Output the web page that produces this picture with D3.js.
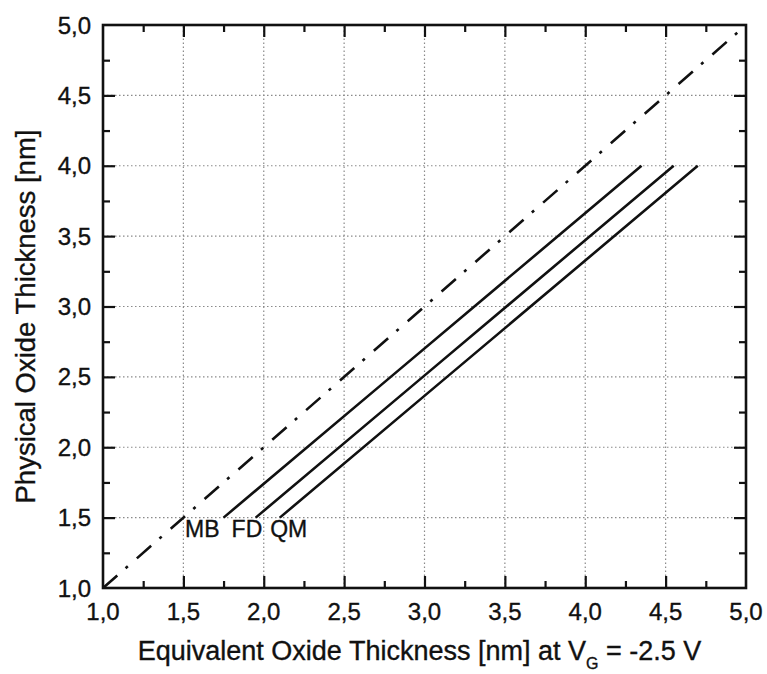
<!DOCTYPE html>
<html>
<head>
<meta charset="utf-8">
<script src="https://cdn.jsdelivr.net/npm/d3@7"></script>
<style>
  body { margin: 0; background: #fff; }
  text { font-family: "Liberation Sans", Arial, sans-serif; fill: #111; stroke: #111; stroke-width: 0.35px; }
</style>
</head>
<body>
<div id="container"></div>
<script>
/* CONSTANTS AND GLOBALS */
const width = 767,
  height = 674,
  margin = { top: 25, bottom: 86, left: 103, right: 21 };

/* DATA */
const majorTicks = [1.0, 1.5, 2.0, 2.5, 3.0, 3.5, 4.0, 4.5, 5.0];
const minorTicks = [1.25, 1.75, 2.25, 2.75, 3.25, 3.75, 4.25, 4.75];

// y = physical oxide thickness, x = EOT for each model
const physY = [1.5, 2.5, 4.0];
const mbX = [1.75, 2.79, 4.35];
const fdX = [1.95, 2.99, 4.55];
const qmX = [2.10, 3.14, 4.70];

// reference line EOT = physical thickness
const refX = [1.0, 5.0];
const refY = [1.0, 5.0];

const modelNames = ["MB", "FD", "QM"];
const labelX = [1.51, 1.80, 2.04];
const labelY = 1.36;

/* SCALES */
const xScale = d3.scaleLinear()
  .domain([1, 5])
  .range([margin.left, width - margin.right]);

const yScale = d3.scaleLinear()
  .domain([1, 5])
  .range([height - margin.bottom, margin.top]);

const fmt = d => d3.format(".1f")(d).replace(".", ",");

/* HTML ELEMENTS */
const svg = d3.select("#container")
  .append("svg")
  .attr("width", width)
  .attr("height", height);

// grid
const inner = majorTicks.slice(1, -1);
svg.append("g")
  .selectAll("line")
  .data(inner)
  .join("line")
  .attr("x1", d => xScale(d)).attr("x2", d => xScale(d))
  .attr("y1", yScale(1)).attr("y2", yScale(5))
  .attr("stroke", "#8a8a8a")
  .attr("stroke-width", 1.2)
  .attr("stroke-dasharray", "1.5,2.5");

svg.append("g")
  .selectAll("line")
  .data(inner)
  .join("line")
  .attr("y1", d => yScale(d)).attr("y2", d => yScale(d))
  .attr("x1", xScale(1)).attr("x2", xScale(5))
  .attr("stroke", "#8a8a8a")
  .attr("stroke-width", 1.2)
  .attr("stroke-dasharray", "1.5,2.5");

// axes (ticks pointing inwards, on all four sides)
const styleAxis = g => {
  g.select(".domain").remove();
  g.selectAll(".tick line").attr("stroke", "#111").attr("stroke-width", 2.2);
};

const tickAxis = (makeAxis, vals, len) => makeAxis()
  .tickValues(vals).tickSize(-len).tickSizeOuter(0)
  .tickFormat("");

const sides = [
  [() => d3.axisBottom(xScale), `translate(0,${yScale(1)})`],
  [() => d3.axisTop(xScale), `translate(0,${yScale(5)})`],
  [() => d3.axisLeft(yScale), `translate(${xScale(1)},0)`],
  [() => d3.axisRight(yScale), `translate(${xScale(5)},0)`]
];
sides.forEach(([makeAxis, tr]) => {
  svg.append("g").attr("transform", tr)
    .call(tickAxis(makeAxis, inner, 12)).call(styleAxis);
  svg.append("g").attr("transform", tr)
    .call(tickAxis(makeAxis, minorTicks, 7)).call(styleAxis);
});

// tick labels
svg.append("g")
  .selectAll("text")
  .data(majorTicks)
  .join("text")
  .attr("x", d => xScale(d))
  .attr("y", yScale(1) + 32)
  .attr("text-anchor", "middle")
  .attr("font-size", 24)
  .text(fmt);

svg.append("g")
  .selectAll("text")
  .data(majorTicks)
  .join("text")
  .attr("x", xScale(1) - 12)
  .attr("y", d => yScale(d) + 8.5)
  .attr("text-anchor", "end")
  .attr("font-size", 24)
  .text(fmt);

/* LINES */
const line = d3.line()
  .x(d => xScale(d[0]))
  .y(d => yScale(d[1]));

svg.append("path")
  .datum(refX.map((x, i) => [x, refY[i]]))
  .attr("d", line)
  .attr("fill", "none")
  .attr("stroke", "#111")
  .attr("stroke-width", 2.6)
  .attr("stroke-dasharray", "19,11,3,12");

[mbX, fdX, qmX].forEach(xs => {
  svg.append("path")
    .datum(xs.map((x, i) => [x, physY[i]]))
    .attr("d", line)
    .attr("fill", "none")
    .attr("stroke", "#111")
    .attr("stroke-width", 2.6);
});

// frame
svg.append("rect")
  .attr("x", xScale(1))
  .attr("y", yScale(5))
  .attr("width", xScale(5) - xScale(1))
  .attr("height", yScale(1) - yScale(5))
  .attr("fill", "none")
  .attr("stroke", "#111")
  .attr("stroke-width", 2.6);

// model labels
svg.append("g")
  .selectAll("text")
  .data(modelNames)
  .join("text")
  .attr("x", (d, i) => xScale(labelX[i]))
  .attr("y", yScale(labelY))
  .attr("font-size", 23)
  .text(d => d);

/* AXIS TITLES */
const xt = svg.append("text")
  .attr("x", (xScale(1) + xScale(5)) / 2 - 5)
  .attr("y", 660)
  .attr("text-anchor", "middle")
  .attr("font-size", 27);
xt.append("tspan").text("Equivalent Oxide Thickness [nm] at V");
xt.append("tspan").attr("font-size", 16).attr("dy", 9).text("G");
xt.append("tspan").attr("dy", -9).text(" = -2.5 V");

svg.append("text")
  .attr("transform", `translate(35,${(yScale(1) + yScale(5)) / 2 + 10}) rotate(-90)`)
  .attr("text-anchor", "middle")
  .attr("font-size", 27.5)
  .text("Physical Oxide Thickness [nm]");
</script>
</body>
</html>
